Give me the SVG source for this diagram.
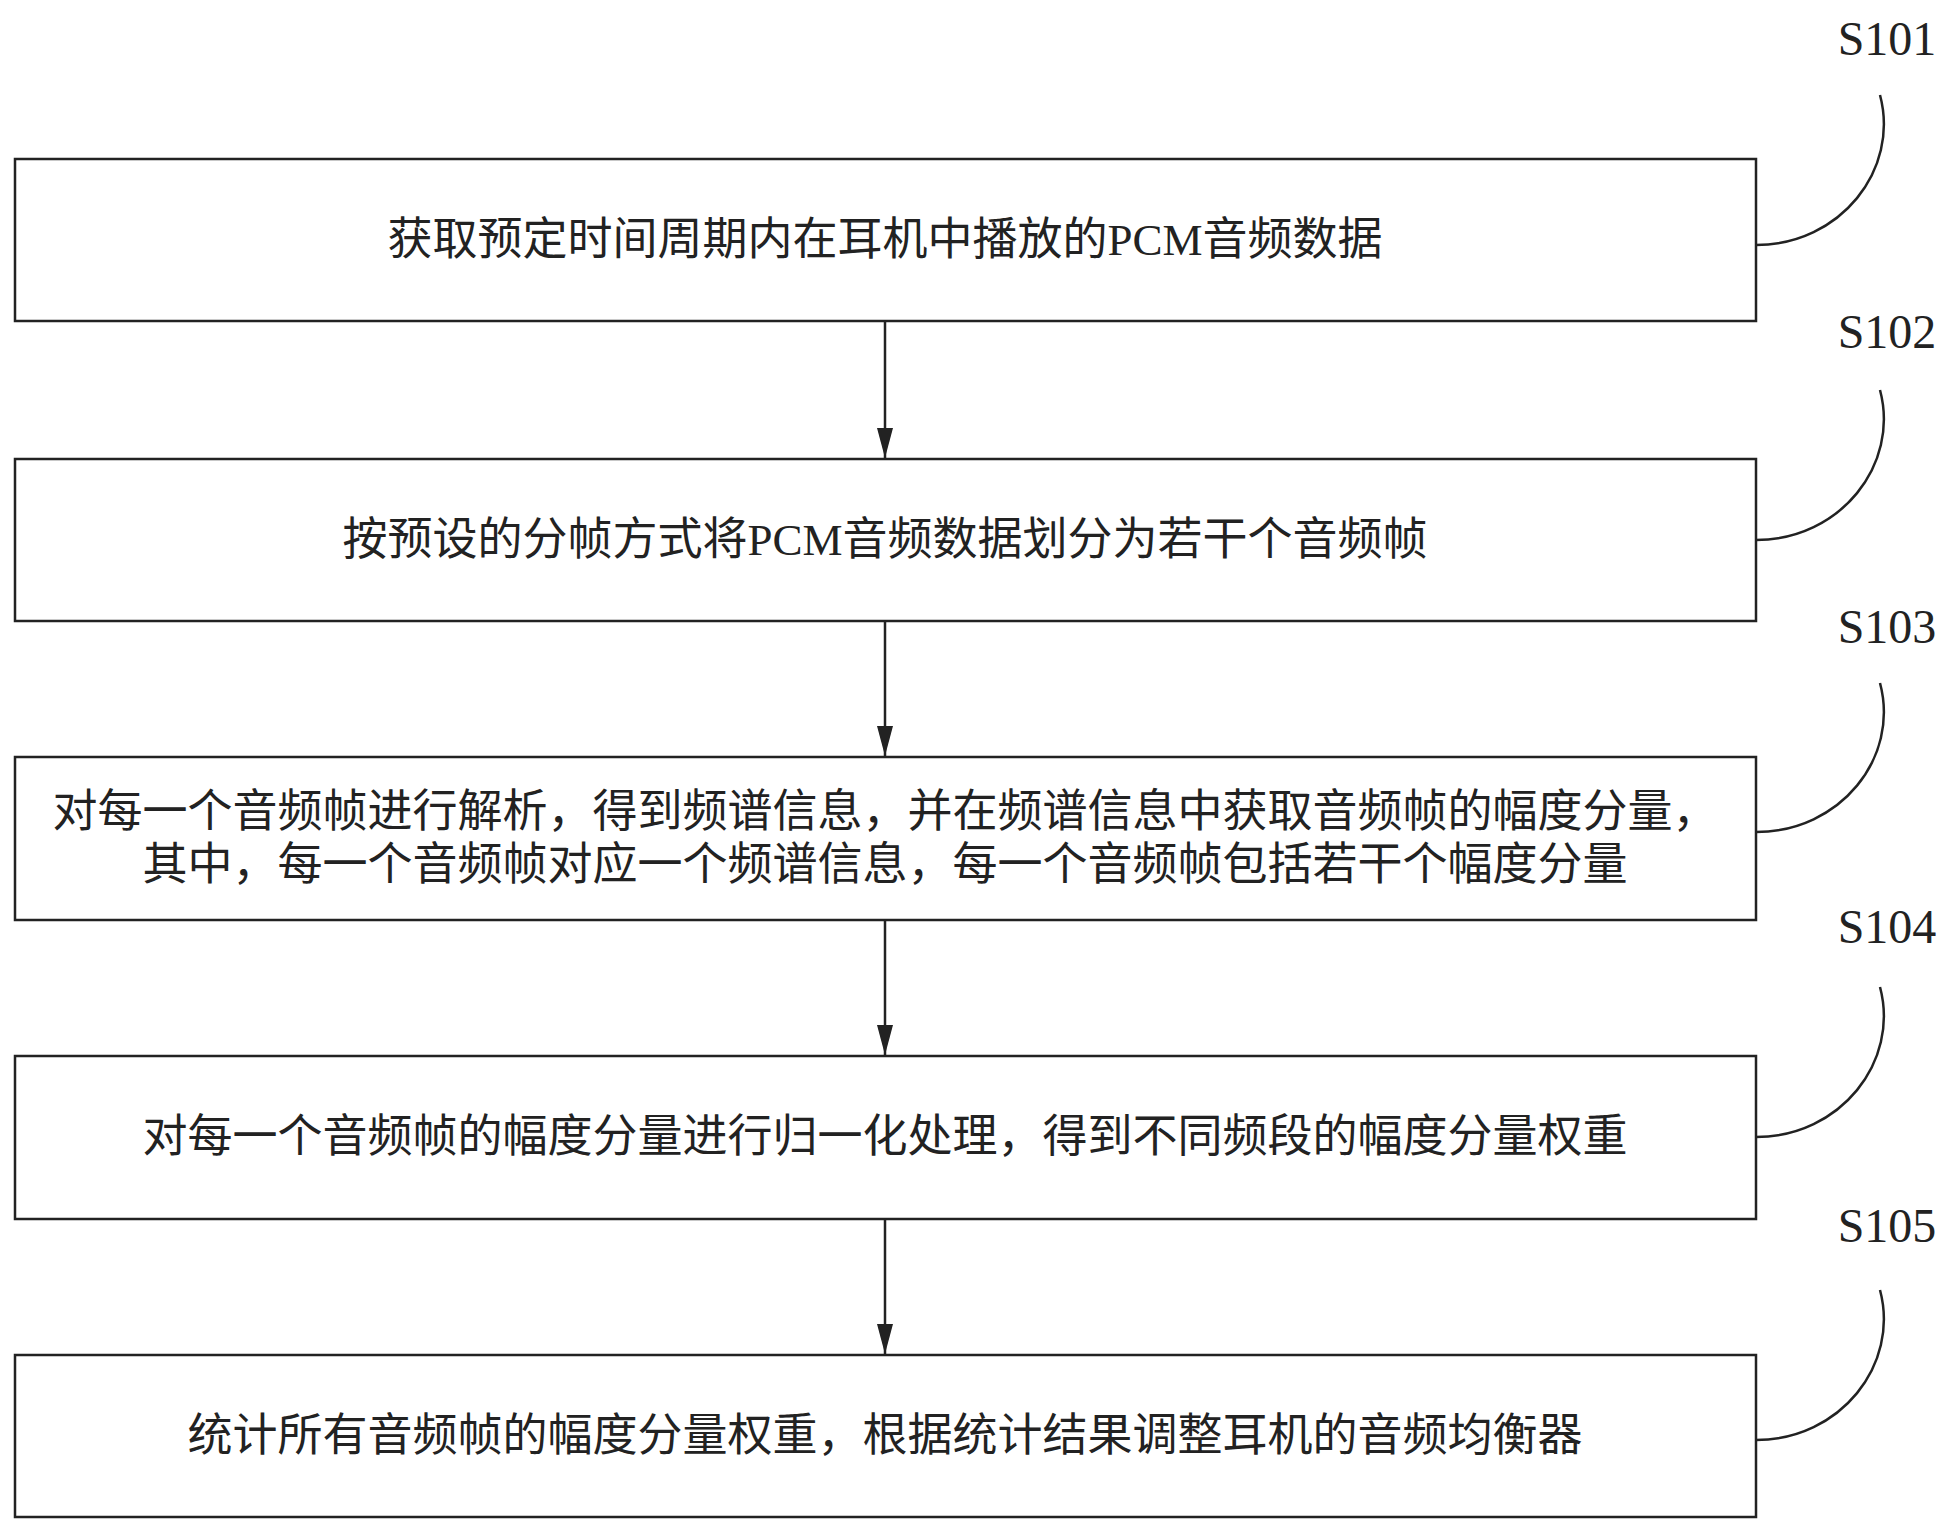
<svg xmlns="http://www.w3.org/2000/svg" width="1959" height="1533" viewBox="0 0 1959 1533">
<style>
.b{fill:#fff;stroke:#222;stroke-width:2.5}
.t{font-family:"Liberation Serif","Noto Sans CJK SC",serif;font-size:45px;fill:#222;text-anchor:middle;dominant-baseline:central}
.l{font-family:"Liberation Serif",serif;font-size:48px;fill:#222;text-anchor:middle}
.c{fill:none;stroke:#222;stroke-width:2.5}
</style>
<defs><marker id="a" markerWidth="30" markerHeight="16" refX="30" refY="8" orient="auto" markerUnits="userSpaceOnUse"><path d="M0,0 L30,8 L0,16 Z" fill="#222"/></marker></defs>
<rect width="1959" height="1533" fill="#fff"/>
<g id="n1"><rect class="b" x="15" y="159" width="1741" height="162"/><text class="t" x="885" y="240">获取预定时间周期内在耳机中播放的PCM音频数据</text><text class="l" x="1887" y="55">S101</text></g>
<g id="n2"><rect class="b" x="15" y="459" width="1741" height="162"/><text class="t" x="885" y="540">按预设的分帧方式将PCM音频数据划分为若干个音频帧</text><text class="l" x="1887" y="348">S102</text></g>
<g id="n3"><rect class="b" x="15" y="757" width="1741" height="163"/><text class="t" x="885" y="812">对每一个音频帧进行解析，得到频谱信息，并在频谱信息中获取音频帧的幅度分量，</text><text class="t" x="885" y="865">其中，每一个音频帧对应一个频谱信息，每一个音频帧包括若干个幅度分量</text><text class="l" x="1887" y="643">S103</text></g>
<g id="n4"><rect class="b" x="15" y="1056" width="1741" height="163"/><text class="t" x="885" y="1137">对每一个音频帧的幅度分量进行归一化处理，得到不同频段的幅度分量权重</text><text class="l" x="1887" y="943">S104</text></g>
<g id="n5"><rect class="b" x="15" y="1355" width="1741" height="162"/><text class="t" x="885" y="1436">统计所有音频帧的幅度分量权重，根据统计结果调整耳机的音频均衡器</text><text class="l" x="1887" y="1242">S105</text></g>
<g id="connectors">
<path class="c" d="M885,321 V458" marker-end="url(#a)"/>
<path class="c" d="M885,621 V756" marker-end="url(#a)"/>
<path class="c" d="M885,920 V1055" marker-end="url(#a)"/>
<path class="c" d="M885,1219 V1354" marker-end="url(#a)"/>
<path class="c" d="M1756,245 C1840,245 1900,170 1880,95"/>
<path class="c" d="M1756,540 C1840,540 1900,465 1880,390"/>
<path class="c" d="M1756,832 C1840,832 1900,758 1880,683"/>
<path class="c" d="M1756,1137 C1840,1137 1900,1062 1880,987"/>
<path class="c" d="M1756,1440 C1840,1440 1900,1365 1880,1290"/>
</g>
</svg>
